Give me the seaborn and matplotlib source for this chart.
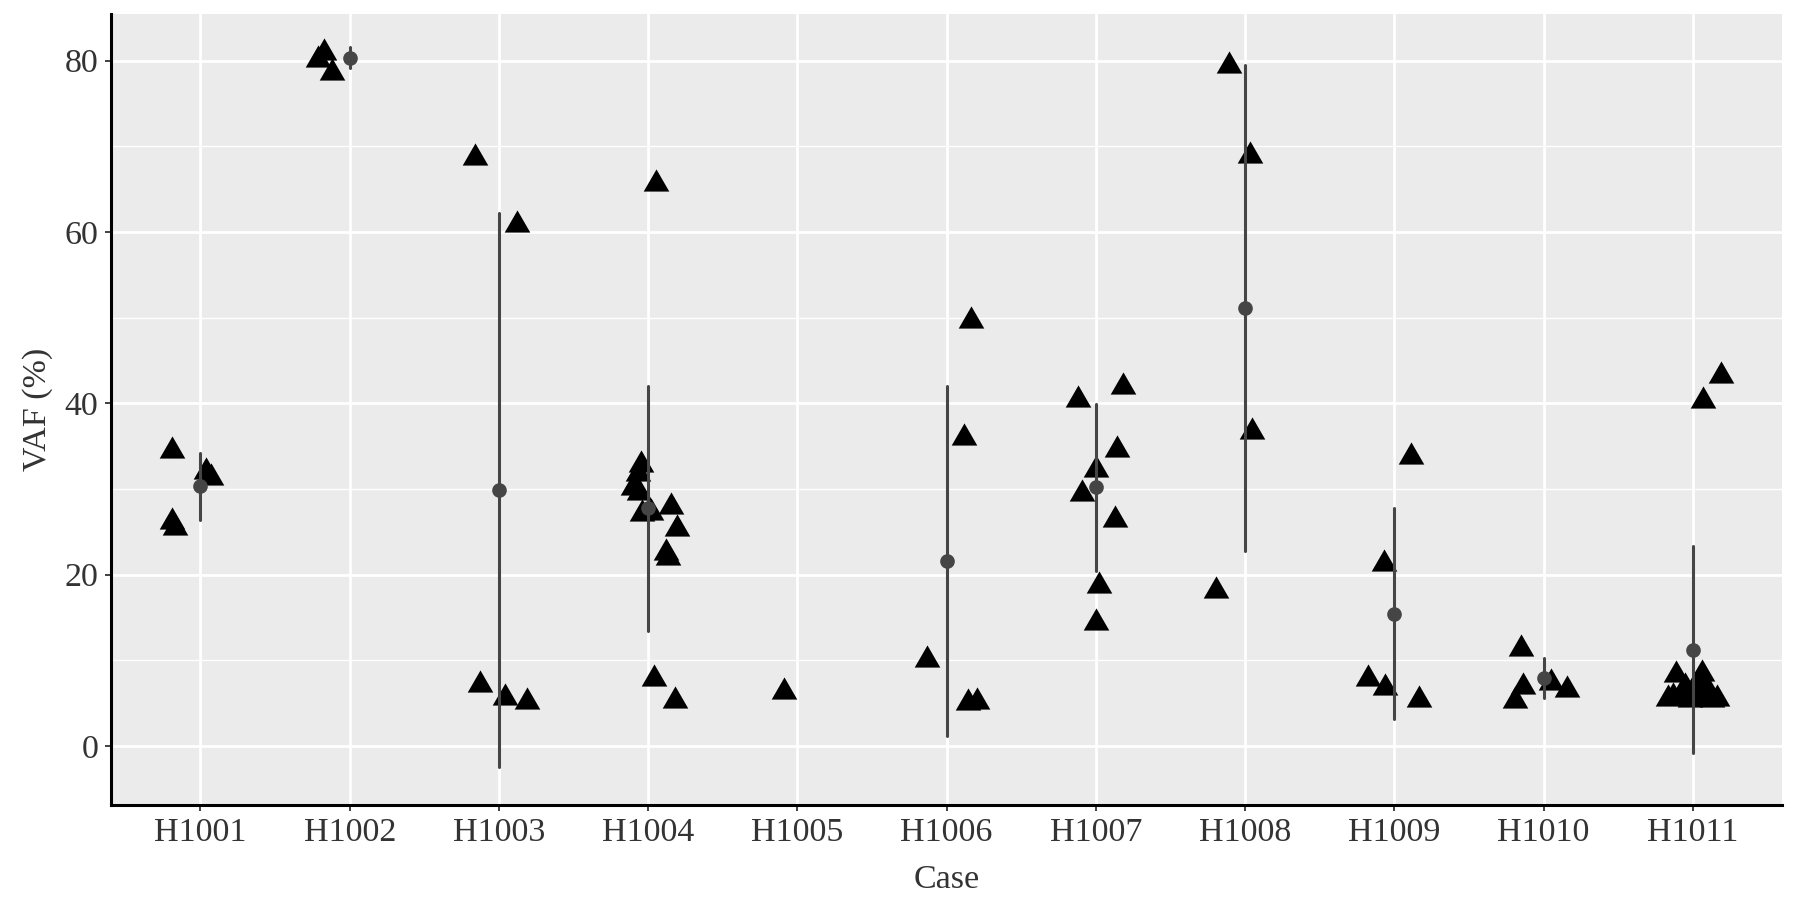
import matplotlib
matplotlib.use("Agg")
import matplotlib.pyplot as plt
from matplotlib.ticker import FixedLocator
import seaborn as sns
import pandas as pd

# casos del eje x
case_ids = ["H1001", "H1002", "H1003", "H1004", "H1005", "H1006",
            "H1007", "H1008", "H1009", "H1010", "H1011"]

# cada variante: caso, VAF (%) y desplazamiento de jitter
point_case = (["H1001"] * 5 + ["H1002"] * 3 + ["H1003"] * 5 + ["H1004"] * 13
              + ["H1005"] * 1 + ["H1006"] * 5 + ["H1007"] * 8 + ["H1008"] * 4
              + ["H1009"] * 5 + ["H1010"] * 5 + ["H1011"] * 16)

point_vaf = [
    34.9, 32.4, 31.7, 26.6, 25.9,
    81.4, 80.6, 79.0,
    69.1, 61.3, 7.6, 6.0, 5.6,
    66.1, 33.3, 32.2, 30.6, 30.0, 27.5, 27.7, 28.4, 25.8, 23.0, 22.4, 8.3, 5.7,
    6.7,
    50.1, 36.4, 10.5, 5.5, 5.6,
    40.8, 42.4, 35.0, 32.7, 29.9, 26.8, 19.1, 14.8,
    79.8, 69.3, 37.1, 18.5,
    34.2, 21.7, 8.3, 7.2, 5.8,
    11.8, 7.3, 5.7, 7.8, 7.0,
    40.7, 43.6, 5.9, 6.2, 8.7, 6.0, 7.3, 5.8, 6.5, 7.4, 8.9, 8.2, 6.0, 6.9, 5.8, 5.9,
]

point_jitter = [
    -0.19, 0.04, 0.07, -0.19, -0.17,
    -0.17, -0.21, -0.12,
    -0.16, 0.12, -0.13, 0.04, 0.19,
    0.05, -0.05, -0.07, -0.10, -0.06, -0.04, 0.02, 0.15, 0.19, 0.12, 0.13, 0.04, 0.18,
    -0.09,
    0.16, 0.115, -0.13, 0.14, 0.20,
    -0.12, 0.18, 0.14, 0.0, -0.09, 0.13, 0.02, 0.0,
    -0.11, 0.03, 0.045, -0.195,
    0.11, -0.07, -0.175, -0.06, 0.165,
    -0.15, -0.14, -0.19, 0.05, 0.155,
    0.065, 0.19, -0.17, -0.13, -0.11, -0.08, -0.05, -0.02, 0.0, 0.02, 0.06, 0.04,
    0.08, 0.10, 0.13, 0.16,
]

sns.set_theme(style="darkgrid")
plt.rcParams["font.family"] = ["Liberation Serif", "DejaVu Serif"]
plt.rcParams["axes.facecolor"] = "#EBEBEB"
plt.rcParams["figure.facecolor"] = "white"

datos = pd.DataFrame({"case": point_case, "vaf": point_vaf, "jitter": point_jitter})
datos["pos"] = pd.Categorical(datos["case"], categories=case_ids).codes + datos["jitter"]

# los casos con una sola variante no tienen media +/- SD
conteo = datos.groupby("case")["vaf"].transform("size")
resumen = datos[conteo > 1]

figura = plt.figure(figsize=(17.95, 9.07), dpi=100)
ax = figura.add_axes([0.0618, 0.1125, 0.9312, 0.8725])

triangulo = [(-1, -0.866), (1, -0.866), (0, 0.866)]
sns.scatterplot(data=datos, x="pos", y="vaf", marker=triangulo, s=340,
                color="black", linewidth=0, ax=ax, zorder=2)

sns.pointplot(data=resumen, x="case", y="vaf", order=case_ids, errorbar="sd",
              color="#454545", markers="o", linestyle="none", markersize=8.5,
              err_kws={"linewidth": 2.2}, ax=ax)
for linea in ax.lines:
    linea.set_zorder(3)
for col in ax.collections[1:]:
    col.set_zorder(3)

ax.set_xticks(range(len(case_ids)))
ax.set_xticklabels(case_ids)
ax.set_xlim(-0.6, len(case_ids) - 0.4)
ax.set_ylim(-6.9, 85.5)
ax.set_yticks([0, 20, 40, 60, 80])
ax.yaxis.set_minor_locator(FixedLocator([10, 30, 50, 70]))

ax.set_axisbelow(True)
ax.grid(which="major", color="white", linewidth=2.0)
ax.grid(which="minor", axis="y", color="white", linewidth=1.0)
ax.grid(which="minor", axis="x", visible=False)

for spine in ["top", "right"]:
    ax.spines[spine].set_visible(False)
for spine in ["left", "bottom"]:
    ax.spines[spine].set_visible(True)
    ax.spines[spine].set_color("black")
    ax.spines[spine].set_linewidth(2.2)

ax.tick_params(which="major", length=4, width=1.3, color="#333333",
               labelsize=24.5, labelcolor="#333333", pad=5, bottom=True, left=True)
ax.tick_params(which="minor", length=0)

ax.set_xlabel("Case", fontsize=24.5, color="#333333", labelpad=12)
ax.set_ylabel("VAF (%)", fontsize=24.5, color="#333333", labelpad=8)

figura.savefig("out.png", dpi=100)
plt.close(figura)
